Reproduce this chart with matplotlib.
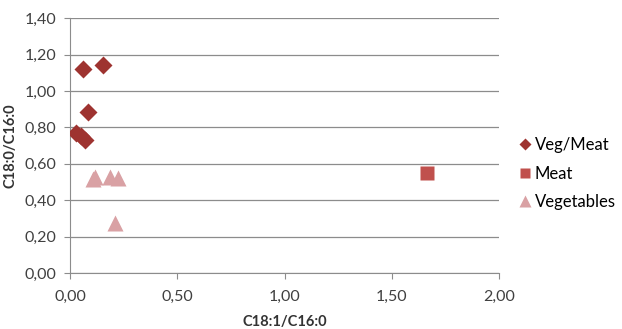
import matplotlib.pyplot as plt
from matplotlib.ticker import FuncFormatter, MultipleLocator

plt.rcParams['font.family'] = ['Lato', 'DejaVu Sans']

# data
vegmeat_x = [0.06, 0.155, 0.085, 0.03, 0.05, 0.07]
vegmeat_y = [1.12, 1.145, 0.885, 0.77, 0.75, 0.73]
meat_x = [1.665]
meat_y = [0.55]
veg_x = [0.107, 0.117, 0.187, 0.222, 0.21]
veg_y = [0.515, 0.527, 0.525, 0.522, 0.275]

fig = plt.figure(figsize=(6.22, 3.29), dpi=100)
ax = fig.add_axes([0.1125, 0.170, 0.690, 0.775])

ax.plot(vegmeat_x, vegmeat_y, 'D', color='#9E3330', ms=9, mec='none',
        label='Veg/Meat', zorder=3)
ax.plot(meat_x, meat_y, 's', color='#C0504D', ms=10.5, mec='none',
        label='Meat', zorder=3)
ax.plot(veg_x, veg_y, '^', color='#D9A1A4', ms=11.5, mec='none',
        label='Vegetables', zorder=3)

ax.set_xlim(0, 2.0)
ax.set_ylim(0, 1.4)
ax.xaxis.set_major_locator(MultipleLocator(0.5))
ax.yaxis.set_major_locator(MultipleLocator(0.2))
fmt = FuncFormatter(lambda v, p: f'{v:.2f}'.replace('.', ','))
ax.xaxis.set_major_formatter(fmt)
ax.yaxis.set_major_formatter(fmt)

ax.grid(axis='y', color='#8C8C8C', lw=0.9)
ax.set_axisbelow(True)
for s in ('top', 'right'):
    ax.spines[s].set_visible(False)
for s in ('left', 'bottom'):
    ax.spines[s].set_color('#8C8C8C')
ax.tick_params(colors='#8C8C8C', labelcolor='#404040', labelsize=11.5,
               length=4, direction='out')
ax.tick_params(axis='x', pad=8)
ax.tick_params(axis='y', pad=6)

ax.set_xlabel('C18:1/C16:0', fontsize=10.5, fontweight='bold', color='#333333',
              labelpad=8)
ax.set_ylabel('C18:0/C16:0', fontsize=10.5, fontweight='bold', color='#333333',
              labelpad=5)

ax.legend(loc='center left', bbox_to_anchor=(1.03, 0.39), frameon=False,
          fontsize=12, handletextpad=0.15, handlelength=0.8,
          labelspacing=0.75, borderaxespad=0, markerscale=0.7)

fig.savefig('out.png', dpi=100)
